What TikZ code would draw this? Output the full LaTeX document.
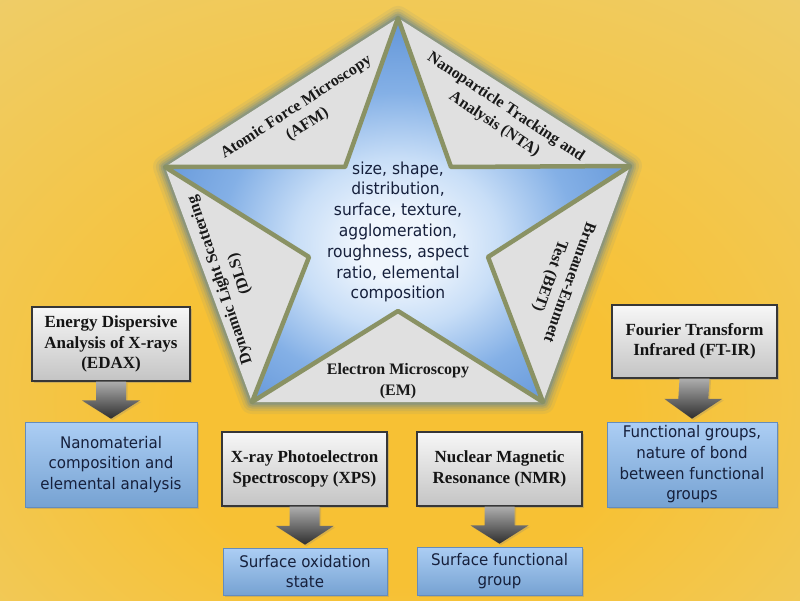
\documentclass[tikz,border=0pt]{standalone}
\usepackage{fontspec}
\setmainfont{Liberation Serif}
\newfontfamily\dvs[FakeStretch=0.94]{DejaVu Sans}
\usetikzlibrary{calc,shadows}

\definecolor{bgin}{RGB}{247,193,52}
\definecolor{bgmid}{RGB}{239,204,100}
\definecolor{bgout}{RGB}{224,217,186}
\definecolor{stc}{RGB}{240,246,253}
\definecolor{stin}{RGB}{200,222,247}
\definecolor{stmid}{RGB}{132,176,230}
\definecolor{stout}{RGB}{84,138,210}
\definecolor{glowc}{RGB}{105,135,145}
\definecolor{starborder}{RGB}{138,146,100}
\definecolor{trifill}{RGB}{224,224,224}
\definecolor{navy}{RGB}{22,32,60}
\definecolor{boxtop}{RGB}{247,247,247}
\definecolor{boxbot}{RGB}{196,196,196}
\definecolor{boxline}{RGB}{55,55,55}
\definecolor{btop}{RGB}{172,206,244}
\definecolor{bbot}{RGB}{118,162,210}
\definecolor{bline}{RGB}{100,140,188}

\pgfdeclareradialshading{bgshade}{\pgfpoint{0bp}{-12bp}}{color(0bp)=(bgin); color(14bp)=(bgin); color(38bp)=(bgmid); color(72bp)=(bgout)}
\pgfdeclareradialshading{starshade}{\pgfpoint{0bp}{-5bp}}{color(0bp)=(stc); color(4bp)=(stc); color(11bp)=(stin); color(19bp)=(stmid); color(32bp)=(stout); color(72bp)=(stout)}

\tikzset{
  trilabel/.style={font=\bfseries\fontsize{16}{20.5}\selectfont, text=black!90, align=center, inner sep=0pt},
  graybox/.style={draw=boxline, line width=1.1pt, top color=boxtop, bottom color=boxbot,
    font=\bfseries\fontsize{17}{20.5}\selectfont, text=black!92, align=center, inner sep=0pt,
    drop shadow={opacity=0.35, shadow xshift=2pt, shadow yshift=-2pt}},
  bluebox/.style={draw=bline, line width=0.6pt, top color=btop, bottom color=bbot,
    font=\dvs\fontsize{16}{20.7}\selectfont, text=navy, align=center, inner sep=0pt,
    drop shadow={opacity=0.3, shadow xshift=2pt, shadow yshift=-2pt}},
  fatarrowstyle/.style={top color=black!32, bottom color=black!82, draw=none,
    drop shadow={opacity=0.25, shadow xshift=1.5pt, shadow yshift=-1.5pt}}
}

\newcommand\fatarrow[2]{%
  \path[fatarrowstyle] ($(#1.south)+(-15,0)$) -- ($(#1.south)+(15,0)$)
    -- ($(#1.south)!0.47!(#2.north)+(15,0)$) -- ($(#1.south)!0.47!(#2.north)+(29,0)$)
    -- ($(#2.north)+(0,-3)$)
    -- ($(#1.south)!0.47!(#2.north)+(-29,0)$) -- ($(#1.south)!0.47!(#2.north)+(-15,0)$) -- cycle;}

\begin{document}
\begin{tikzpicture}[x=1pt,y=-1pt]
\useasboundingbox (0,0) rectangle (800,601);
\shade[shading=bgshade] (0,0) rectangle (800,601);

% pentagon vertices
\coordinate (P1) at (398,18);
\coordinate (P2) at (630,166);
\coordinate (P3) at (543,402);
\coordinate (P4) at (252,402);
\coordinate (P5) at (165,167);
% star inner vertices
\coordinate (I1) at (451,167);
\coordinate (I2) at (488,257);
\coordinate (I3) at (398,311);
\coordinate (I4) at (309,257);
\coordinate (I5) at (345,167);

% glow
\foreach \w/\o in {24/0.10, 18/0.14, 13/0.2, 9/0.28, 5/0.4}
  \draw[line width=\w pt, glowc, opacity=\o, line join=round] (P1)--(P2)--(P3)--(P4)--(P5)--cycle;
\fill[trifill] (P1)--(P2)--(P3)--(P4)--(P5)--cycle;

% star
\shadedraw[shading=starshade, draw=starborder, line width=4.5pt, line join=round]
  (P1)--(I1)--(P2)--(I2)--(P3)--(I3)--(P4)--(I4)--(P5)--(I5)--cycle;

\node[font=\dvs\fontsize{16.5}{20.8}\selectfont, text=navy, align=center] (stxt) at (398,232)
  {size, shape,\\distribution,\\surface, texture,\\agglomeration,\\roughness, aspect\\ratio, elemental\\composition};

% triangle labels
\node[trilabel, rotate=33] (afm) at (302,116) {Atomic Force Microscopy\\(AFM)};
\node[trilabel, rotate=-33.5] (nta) at (500,116) {Nanoparticle Tracking and\\Analysis (NTA)};
\node[trilabel, rotate=108.5] (dls) at (230,277) {Dynamic Light Scattering\\(DLS)};
\node[trilabel, rotate=-110] (bet) at (559,279) {Brunauer-Emmett\\Test (BET)};
\node[trilabel] (em) at (398,381) {Electron Microscopy\\(EM)};

% boxes
\node[graybox, minimum width=158pt, minimum height=74pt] (edax) at (111,344)
  {Energy Dispersive\\Analysis of X-rays\\(EDAX)};
\node[bluebox, minimum width=172pt, minimum height=85pt] (edaxr) at (111,464.5)
  {Nanomaterial\\composition and\\elemental analysis};

\node[graybox, minimum width=165pt, minimum height=74pt] (xps) at (304.5,469)
  {X-ray Photoelectron\\Spectroscopy (XPS)};
\node[bluebox, minimum width=164pt, minimum height=47pt] (xpsr) at (305,571.5)
  {Surface oxidation\\state};

\node[graybox, minimum width=165pt, minimum height=74pt] (nmr) at (499.5,469)
  {Nuclear Magnetic\\Resonance (NMR)};
\node[bluebox, minimum width=165pt, minimum height=48pt] (nmrr) at (499.5,571)
  {Surface functional\\group};

\node[graybox, minimum width=165pt, minimum height=73pt] (ftir) at (694.5,341.5)
  {Fourier Transform\\Infrared (FT-IR)};
\node[bluebox, minimum width=170pt, minimum height=85pt] (ftirr) at (692,464.5)
  {Functional groups,\\nature of bond\\between functional\\groups};

\fatarrow{edax}{edaxr}
\fatarrow{xps}{xpsr}
\fatarrow{nmr}{nmrr}
\fatarrow{ftir}{ftirr}
\end{tikzpicture}
\end{document}
